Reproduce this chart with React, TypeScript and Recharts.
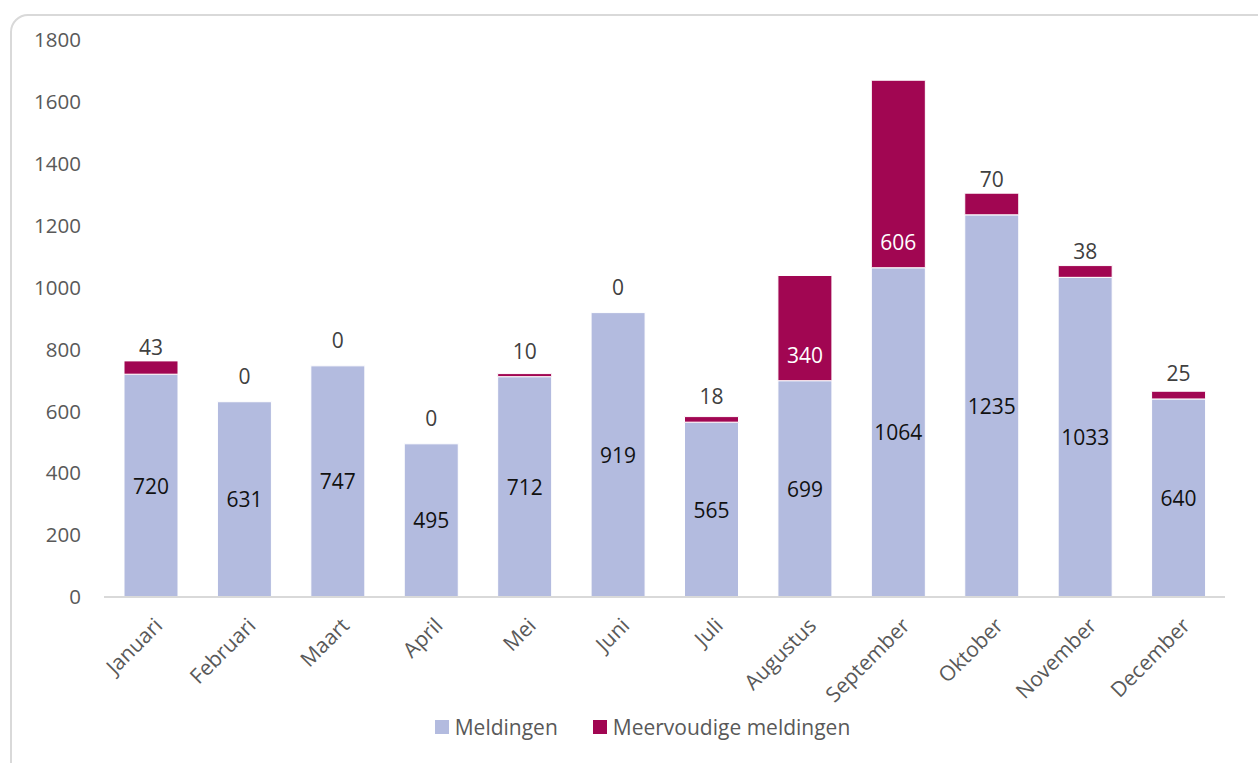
import React from 'react';
import { BarChart, Bar, XAxis, YAxis, Legend, LabelList } from 'recharts';

const months = ['Januari', 'Februari', 'Maart', 'April', 'Mei', 'Juni', 'Juli', 'Augustus', 'September', 'Oktober', 'November', 'December'];
const meldingen = [720, 631, 747, 495, 712, 919, 565, 699, 1064, 1235, 1033, 640];
const meervoudig = [43, 0, 0, 0, 10, 0, 18, 340, 606, 70, 38, 25];
const yTicks = [0, 200, 400, 600, 800, 1000, 1200, 1400, 1600, 1800];

const data = months.map((m, i) => ({ month: m, meldingen: meldingen[i], meervoudig: meervoudig[i] }));

const FONT = '"Open Sans", sans-serif';
const LIGHT = '#B3BBDF';
const DARK = '#A10652';

const XTick = (props: any) => {
  const { x, y, payload } = props;
  return (
    <g transform={`translate(${x + 8},${y + 17})`}>
      <text textAnchor="end" transform="rotate(-45)" fontFamily={FONT} fontSize={21} fill="#595959" dy={7}>
        {payload.value}
      </text>
    </g>
  );
};

const CenterLabel = (props: any) => {
  const { x, y, width, height, value } = props;
  return (
    <text x={x + width / 2} y={y + height / 2} textAnchor="middle" dominantBaseline="central" fontFamily={FONT} fontSize={21} fill="#111">
      {value}
    </text>
  );
};

// Label for the stacked "meervoudig" value, drawn from the meldingen bar geometry so zero values appear too.
const TopLabel = (props: any) => {
  const { x, y, width, height, index } = props;
  const base = meldingen[index];
  const extra = meervoudig[index];
  const pxPerUnit = base ? height / base : 0;
  const redH = extra * pxPerUnit;
  const big = extra > 200;
  const ly = big ? y - 26 : Math.min(y - 26, y - redH - 14);
  return (
    <text x={x + width / 2} y={ly} textAnchor="middle" dominantBaseline="central" fontFamily={FONT} fontSize={21} fill={big ? '#fff' : '#404040'}>
      {extra}
    </text>
  );
};

const LegendContent = () => (
  <div style={{ display: 'flex', justifyContent: 'center', alignItems: 'center', fontFamily: FONT, fontSize: 21, color: '#595959', height: 28, paddingLeft: 60 }}>
    <span style={{ display: 'inline-block', width: 14, height: 14, background: LIGHT, marginRight: 6 }} />
    <span style={{ marginRight: 35 }}>Meldingen</span>
    <span style={{ display: 'inline-block', width: 14, height: 14, background: DARK, marginRight: 6 }} />
    <span>Meervoudige meldingen</span>
  </div>
);

export default function App() {
  return (
    <div style={{ position: 'absolute', left: 0, top: 0, width: 1258, height: 763, overflow: 'hidden', background: '#fff' }}>
      <div style={{ position: 'absolute', left: 10, top: 14, width: 1270, height: 770, border: '2px solid #D9D9D9', borderRadius: 18, boxSizing: 'border-box' }} />
      <div style={{ position: 'absolute', left: 0, top: 0 }}>
        <BarChart width={1258} height={763} data={data} margin={{ top: 40, right: 33, left: 0, bottom: 22 }} barSize={54}>
          <XAxis dataKey="month" tick={<XTick />} tickLine={false} axisLine={{ stroke: '#D9D9D9', strokeWidth: 2 }} interval={0} height={116} />
          <YAxis domain={[0, 1800]} ticks={yTicks} width={104} tickLine={false} axisLine={false} tickMargin={17} tick={{ fontFamily: FONT, fontSize: 20.5, fill: '#595959' }} />
          <Legend verticalAlign="bottom" content={<LegendContent />} height={28} />
          <Bar dataKey="meldingen" stackId="a" fill={LIGHT} stroke="#fff" strokeWidth={1} isAnimationActive={false}>
            <LabelList dataKey="meldingen" content={<CenterLabel />} />
            <LabelList dataKey="meervoudig" content={<TopLabel />} />
          </Bar>
          <Bar dataKey="meervoudig" stackId="a" fill={DARK} stroke="#fff" strokeWidth={1} isAnimationActive={false} />
        </BarChart>
      </div>
    </div>
  );
}
